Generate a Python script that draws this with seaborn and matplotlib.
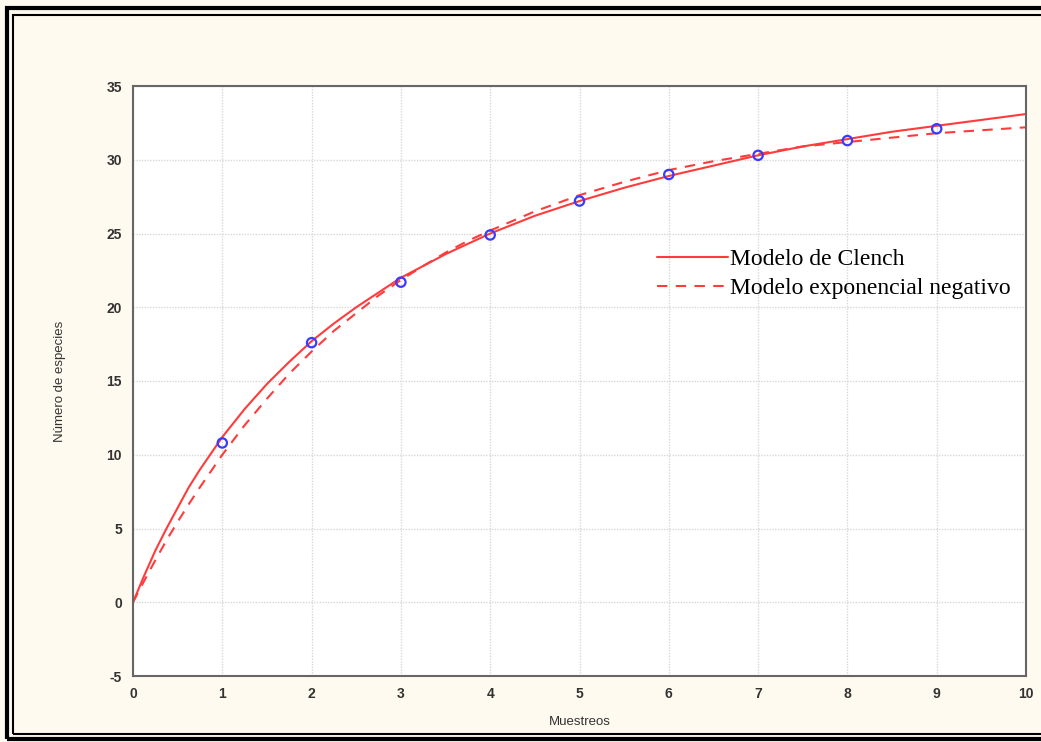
import matplotlib
matplotlib.use("Agg")
import matplotlib.pyplot as plt
import seaborn as sns
import pandas as pd
from matplotlib.patches import Rectangle

# Observed species accumulation
muestreos = [1, 2, 3, 4, 5, 6, 7, 8, 9]
especies = [10.8, 17.6, 21.7, 24.9, 27.2, 29.0, 30.3, 31.3, 32.1]

# Curves
x_curve = [0, 0.125, 0.25, 0.375, 0.5, 0.625, 0.75, 0.875, 1, 1.25, 1.5, 1.75,
           2, 2.25, 2.5, 2.75, 3, 3.25, 3.5, 3.75, 4, 4.5, 5, 5.5,
           6, 6.5, 7, 7.5, 8, 8.5, 9, 9.5, 10]
clench = [0, 1.8, 3.5, 5.0, 6.4, 7.8, 9.0, 10.1, 11.2, 13.1, 14.8, 16.3,
          17.7, 18.9, 20.0, 21.0, 22.0, 22.8, 23.6, 24.3, 25.0, 26.2,
          27.2, 28.1, 28.9, 29.6, 30.3, 30.9, 31.4, 31.9, 32.3, 32.7, 33.1]
exponencial = [0, 1.45, 2.85, 4.2, 5.45, 6.65, 7.8, 8.9, 10.0, 12.0, 13.8, 15.5,
               17.0, 18.4, 19.6, 20.8, 21.85, 22.8, 23.7, 24.5, 25.2,
               26.5, 27.6, 28.5, 29.3, 29.9, 30.4, 30.9, 31.2, 31.5, 31.8,
               32.0, 32.2]

x_ticks = list(range(0, 11))
y_ticks = [-5, 0, 5, 10, 15, 20, 25, 30, 35]

sns.set_style("white")
plt.rcParams['font.family'] = ['Liberation Sans', 'DejaVu Sans']
plt.rcParams['axes.unicode_minus'] = False

bg = "#FFFAEF"
fig = plt.figure(figsize=(10.41, 7.42), dpi=100, facecolor=bg)
ax = fig.add_axes([133/1041, 66/742, 893/1041, 590/742])
ax.set_facecolor("white")

df_c = pd.DataFrame({"x": x_curve, "y": clench})
df_e = pd.DataFrame({"x": x_curve, "y": exponencial})
df_p = pd.DataFrame({"x": muestreos, "y": especies})

red = "#FF3B3B"
sns.lineplot(data=df_c, x="x", y="y", ax=ax, color=red, linewidth=1.5,
             label="Modelo de Clench", sort=False)
sns.lineplot(data=df_e, x="x", y="y", ax=ax, color=red, linewidth=1.5,
             linestyle=(0, (5, 4)), label="Modelo exponencial negativo", sort=False)
sns.scatterplot(data=df_p, x="x", y="y", ax=ax, marker="o", s=45,
                facecolor="none", edgecolor="#3B3BFF", linewidth=1.6, zorder=5)

ax.set_xlim(0, 10)
ax.set_ylim(-5, 35)
ax.set_xticks(x_ticks)
ax.set_yticks(y_ticks)
ax.grid(True, color="#D8D8D8", linestyle=(0, (1, 1)), linewidth=1.0)
ax.set_axisbelow(True)
for s in ax.spines.values():
    s.set_color("#666666")
    s.set_linewidth(1.5)
ax.tick_params(direction="in", length=4, width=1, colors="#555555",
               labelsize=10, labelcolor="#333333", pad=8)
for lab in ax.get_xticklabels() + ax.get_yticklabels():
    lab.set_fontweight("bold")
ax.set_xlabel("Muestreos", fontsize=9.5, color="#333333", labelpad=11)
ax.set_ylabel("Número de especies", fontsize=9.5, color="#333333", labelpad=29)

leg = ax.legend(loc="upper left", bbox_to_anchor=(0.576, 0.74), frameon=False,
                prop={"family": "Liberation Serif", "size": 17},
                handlelength=3.0, handletextpad=0.12, labelspacing=0.3,
                borderaxespad=0)
for t in leg.get_texts():
    t.set_color("black")

# Double border around the figure (left, top, bottom)
fig.patches.append(Rectangle((7/1041, 3/742), 1.2, 731/742, transform=fig.transFigure,
                             fill=False, edgecolor="black", linewidth=3))
fig.patches.append(Rectangle((13/1041, 8/742), 1.2, 719/742, transform=fig.transFigure,
                             fill=False, edgecolor="black", linewidth=1.5))

fig.savefig("out.png", dpi=100, facecolor=bg)
